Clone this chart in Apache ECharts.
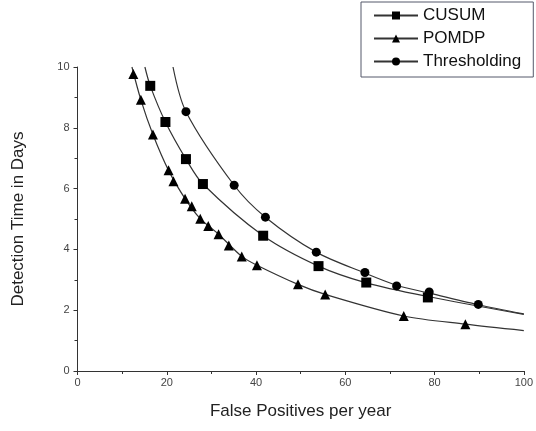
<!DOCTYPE html>
<html>
<head>
<meta charset="utf-8">
<script src="https://cdn.jsdelivr.net/npm/echarts@6/dist/echarts.min.js"></script>
<style>html,body{margin:0;padding:0;background:#fff}#c{width:536px;height:431px}</style>
</head>
<body>
<div id="c"></div>
<script>
// Marker points
var cusumX = [16.3, 19.7, 24.3, 28.1, 41.6, 54.0, 64.7, 78.5];
var cusumY = [9.38, 8.19, 6.97, 6.15, 4.45, 3.45, 2.91, 2.42];
var pomdpX = [12.5, 14.2, 16.9, 20.4, 21.5, 24.1, 25.6, 27.5, 29.3, 31.6, 33.9, 36.8, 40.2, 49.4, 55.5, 73.1, 86.9];
var pomdpY = [9.77, 8.92, 7.78, 6.60, 6.24, 5.67, 5.42, 5.01, 4.77, 4.50, 4.13, 3.77, 3.48, 2.85, 2.52, 1.81, 1.54];
var threshX = [24.3, 35.1, 42.1, 53.5, 64.4, 71.5, 78.8, 89.8];
var threshY = [8.53, 6.11, 5.06, 3.91, 3.24, 2.80, 2.60, 2.19];

// Fitted curve points
var cusumCurveX = [15.1, 16.3, 19.7, 24.3, 28.1, 41.6, 54.0, 64.7, 78.5, 100];
var cusumCurveY = [10.0, 9.38, 8.19, 6.97, 6.15, 4.45, 3.45, 2.90, 2.45, 1.86];
var pomdpCurveX = [12.2, 14.2, 16.9, 20.4, 24.1, 27.5, 31.6, 36.8, 40.2, 49.4, 55.5, 73.1, 86.9, 100];
var pomdpCurveY = [10.0, 8.92, 7.78, 6.60, 5.67, 5.01, 4.50, 3.77, 3.48, 2.85, 2.52, 1.81, 1.54, 1.33];
var threshCurveX = [21.4, 24.3, 35.1, 42.1, 53.5, 64.4, 71.5, 78.8, 89.8, 100];
var threshCurveY = [10.0, 8.53, 6.11, 5.06, 3.91, 3.22, 2.82, 2.56, 2.18, 1.88];

var xTicks = [0, 20, 40, 60, 80, 100];
var yTicks = [0, 2, 4, 6, 8, 10];

function pairs(xs, ys) { return xs.map(function (x, i) { return [x, ys[i]]; }); }

var chart = echarts.init(document.getElementById('c'), null, {renderer: 'canvas'});
var font = 'Liberation Sans, Arial, sans-serif';
var lineStyle = {color: '#333', width: 1.2};
var mk = {color: '#000', opacity: 1};

function curve(name, xs, ys, sym, size) {
  return {
    name: name, type: 'line', data: pairs(xs, ys), smooth: 0.3,
    showSymbol: false, symbol: sym, symbolSize: size,
    lineStyle: lineStyle, itemStyle: mk, clip: true, z: 2, silent: true
  };
}
function marks(name, xs, ys, sym, size) {
  return {
    name: name, type: 'scatter', data: pairs(xs, ys), symbol: sym,
    symbolSize: size, itemStyle: mk, z: 3, silent: true
  };
}

chart.setOption({
  animation: false,
  backgroundColor: '#fff',
  grid: {left: 77.5, right: 9, top: 67, bottom: 60, containLabel: false},
  legend: {
    orient: 'vertical', left: 361, top: 2,
    data: ['CUSUM', 'POMDP', 'Thresholding'],
    itemWidth: 44, itemHeight: 10, itemGap: 6,
    padding: [5, 12, 7, 12],
    borderColor: '#55596a', borderWidth: 1,
    textStyle: {fontFamily: font, fontSize: 17, color: '#111'},
    selectedMode: false
  },
  xAxis: {
    type: 'value', min: 0, max: 100, interval: 20,
    name: 'False Positives per year', nameLocation: 'middle', nameGap: 32,
    nameTextStyle: {fontFamily: font, fontSize: 17, color: '#222'},
    axisLine: {show: true, onZero: false, lineStyle: {color: '#333', width: 1}},
    axisTick: {show: true, inside: false, length: 4, lineStyle: {color: '#333'}},
    minorTick: {show: true, splitNumber: 2, length: 3, lineStyle: {color: '#333'}},
    axisLabel: {fontFamily: font, fontSize: 11, color: '#444', margin: 6,
      formatter: function (v) { return xTicks.indexOf(v) >= 0 ? String(v) : ''; }},
    splitLine: {show: false}
  },
  yAxis: {
    type: 'value', min: 0, max: 10, interval: 2,
    name: 'Detection Time in Days', nameLocation: 'middle', nameGap: 51,
    nameTextStyle: {fontFamily: font, fontSize: 17, color: '#222'},
    axisLine: {show: true, onZero: false, lineStyle: {color: '#333', width: 1}},
    axisTick: {show: true, inside: false, length: 4, lineStyle: {color: '#333'}},
    minorTick: {show: true, splitNumber: 2, length: 3, lineStyle: {color: '#333'}},
    axisLabel: {fontFamily: font, fontSize: 11, color: '#444', margin: 8,
      formatter: function (v) { return yTicks.indexOf(v) >= 0 ? String(v) : ''; }},
    splitLine: {show: false}
  },
  series: [
    curve('CUSUM', cusumCurveX, cusumCurveY, 'rect', 10),
    curve('POMDP', pomdpCurveX, pomdpCurveY, 'triangle', 10),
    curve('Thresholding', threshCurveX, threshCurveY, 'circle', 9),
    marks('CUSUM', cusumX, cusumY, 'rect', 10),
    marks('POMDP', pomdpX, pomdpY, 'triangle', 10),
    marks('Thresholding', threshX, threshY, 'circle', 9)
  ]
});
</script>
</body>
</html>
